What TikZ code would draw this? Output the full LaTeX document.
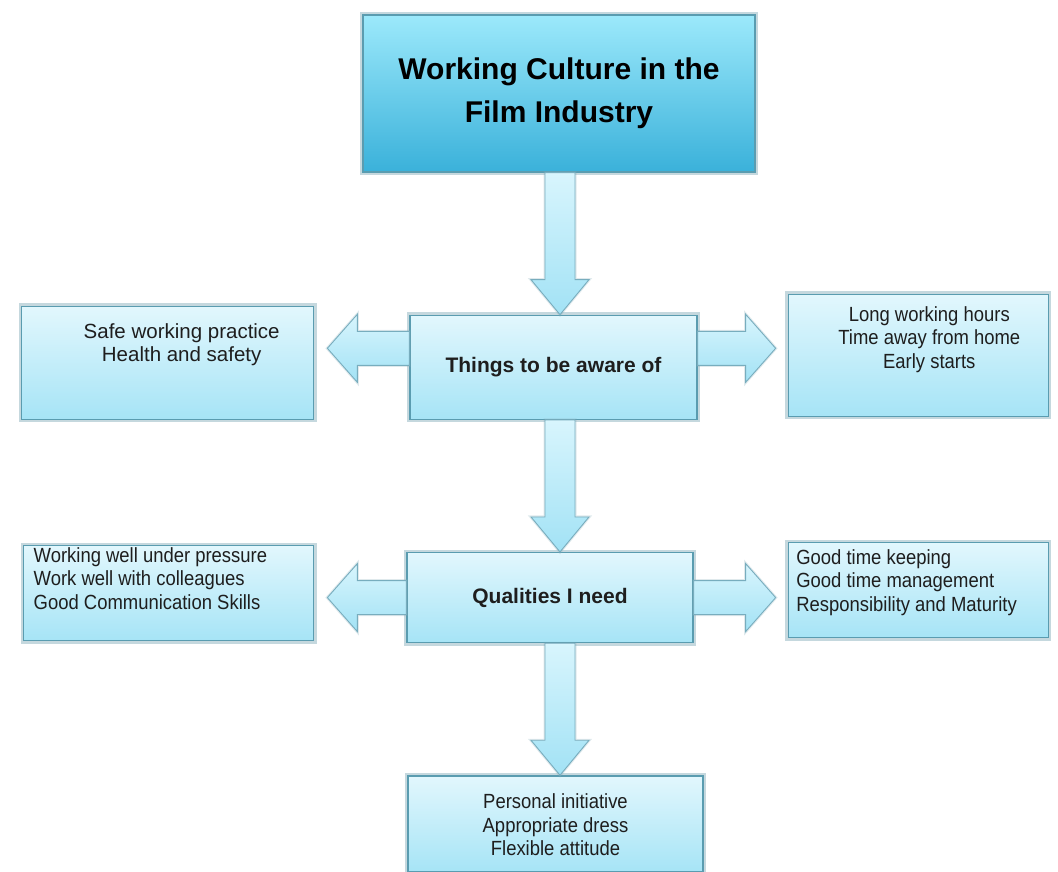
\documentclass[tikz,border=0pt]{standalone}
\usepackage{fontspec}
\setmainfont{Liberation Sans}
\newfontfamily\narrowfont[FakeStretch=0.9]{Liberation Sans}
\usetikzlibrary{positioning,calc}

\definecolor{boxtop}{HTML}{E2F7FD}
\definecolor{boxbot}{HTML}{A6E4F6}
\definecolor{boxedge}{HTML}{5A9CB0}
\definecolor{titletop}{HTML}{9CE9FB}
\definecolor{titlebot}{HTML}{3AB1DA}
\definecolor{arrowtop}{HTML}{D8F5FD}
\definecolor{arrowbot}{HTML}{A2E2F5}
\definecolor{arrowedge}{HTML}{78ADBE}
\definecolor{glow}{HTML}{7FA8B5}
\definecolor{textcol}{HTML}{1E1E1E}

% Fat block arrows between two named boxes
\newcommand{\blockdown}[3]{% source, target, x shift
  \path[blockarrow] let \p1=(#1.south), \p2=(#2.north) in
    (\x2+#3-15pt,\y1) -- (\x2+#3-15pt,\y2+35pt) -- (\x2+#3-29pt,\y2+35pt)
    -- (\x2+#3,\y2) -- (\x2+#3+29pt,\y2+35pt) -- (\x2+#3+15pt,\y2+35pt)
    -- (\x2+#3+15pt,\y1) -- cycle;}
\newcommand{\blockleft}[3]{% source, target, y shift
  \path[blockarrow] let \p1=(#1.west), \p2=(#2.east) in
    (\x1,\y1+#3+17pt) -- (\x2+43pt,\y1+#3+17pt) -- (\x2+43pt,\y1+#3+34pt)
    -- (\x2+13pt,\y1+#3) -- (\x2+43pt,\y1+#3-34pt) -- (\x2+43pt,\y1+#3-17pt)
    -- (\x1,\y1+#3-17pt) -- cycle;}
\newcommand{\blockright}[3]{% source, target, y shift
  \path[blockarrow] let \p1=(#1.east), \p2=(#2.west) in
    (\x1,\y1+#3+17pt) -- (\x2-42pt,\y1+#3+17pt) -- (\x2-42pt,\y1+#3+34pt)
    -- (\x2-12pt,\y1+#3) -- (\x2-42pt,\y1+#3-34pt) -- (\x2-42pt,\y1+#3-17pt)
    -- (\x1,\y1+#3-17pt) -- cycle;}

\begin{document}
\begin{tikzpicture}[x=1pt, y=-1pt]
% -------------------------------------------------
% Box and arrow styles
\tikzset{
  box/.style={draw=boxedge, line width=1.3pt, top color=boxtop, bottom color=boxbot,
    inner sep=0pt, text=textcol,
    preaction={draw=glow, line width=6pt, opacity=0.45}},
  titlebox/.style={box, top color=titletop, bottom color=titlebot,
    minimum width=392pt, minimum height=157pt, align=center, text=black,
    font=\fontsize{30}{43}\selectfont\bfseries},
  midbox/.style={box, font=\fontsize{21}{25}\selectfont\bfseries},
  listbox/.style={box, font=\fontsize{20.5}{23.5}\selectfont},
  narrowbox/.style={box, font=\narrowfont\fontsize{20.5}{23.5}\selectfont},
  blockarrow/.style={draw=arrowedge, line width=0.9pt, top color=arrowtop,
    bottom color=arrowbot, preaction={draw=glow, line width=3pt, opacity=0.25}}
}
\useasboundingbox (0,0) rectangle (1058,872);
% -------------------------------------------------
% Main column
\node [titlebox] (title) at (559,93.5) {Working Culture in the\\Film Industry};
\node [midbox, minimum width=287pt, minimum height=104pt,
  below=142pt of title, xshift=-5.5pt] (aware) {Things to be aware of};
\node [midbox, minimum width=286pt, minimum height=90pt,
  below=132pt of aware, xshift=-3.5pt] (qualities) {Qualities I need};
\node [narrowbox, below=132pt of qualities, xshift=5.5pt] (personal)
  {\parbox[c][96pt][t]{295pt}{\vspace*{18pt}\centering
   Personal initiative\\Appropriate dress\\Flexible attitude}};
% Side boxes
\node [listbox, left=95pt of aware, yshift=4.5pt] (safety)
  {\parbox[c][113pt][t]{292pt}{\vspace*{17pt}\centering\leftskip=28pt plus 1fil\relax
   Safe working practice\\Health and safety}};
\node [narrowbox, right=90pt of aware, yshift=12pt] (hours)
  {\parbox[c][122pt][t]{260pt}{\vspace*{12pt}\centering\leftskip=22pt plus 1fil\relax
   Long working hours\\Time away from home\\Early starts}};
\node [narrowbox, left=92pt of qualities, yshift=4.5pt] (skills)
  {\parbox[c][95pt][t]{290pt}{\vspace*{2pt}\raggedright\leftskip=10pt\relax
   Working well under pressure\\Work well with colleagues\\Good Communication Skills}};
\node [narrowbox, right=94pt of qualities, yshift=7.5pt] (timekeeping)
  {\parbox[c][95pt][t]{260pt}{\vspace*{7pt}\raggedright\leftskip=8pt\relax
   Good time keeping\\Good time management\\Responsibility and Maturity}};
% -------------------------------------------------
% Arrows
\blockdown{title}{aware}{6.5pt}
\blockdown{aware}{qualities}{10pt}
\blockdown{qualities}{personal}{4.5pt}
\blockleft{aware}{safety}{19pt}
\blockright{aware}{hours}{19pt}
\blockleft{qualities}{skills}{0pt}
\blockright{qualities}{timekeeping}{0pt}
\end{tikzpicture}
\end{document}
